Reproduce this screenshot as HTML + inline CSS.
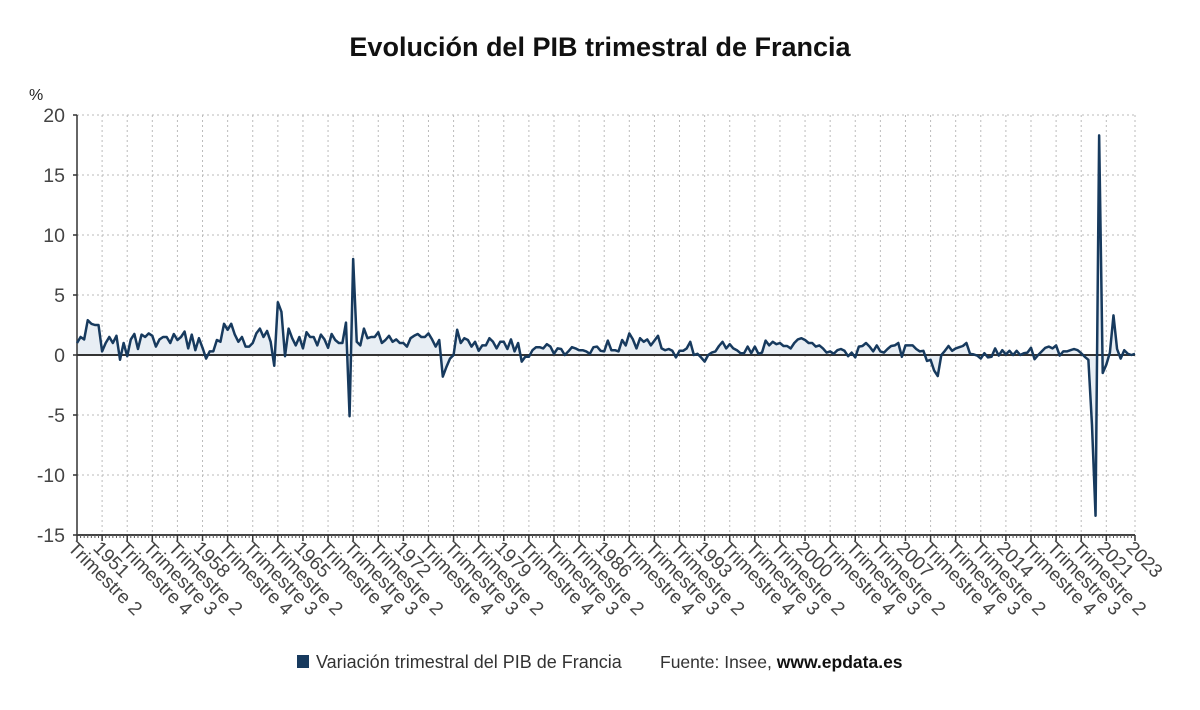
<!DOCTYPE html>
<html><head><meta charset="utf-8">
<style>
html,body{margin:0;padding:0;background:#fff;}
body{width:1200px;height:705px;overflow:hidden;font-family:"Liberation Sans",sans-serif;}
</style></head>
<body>
<svg id="chart" width="1200" height="705" viewBox="0 0 1200 705" xmlns="http://www.w3.org/2000/svg" font-family="Liberation Sans, DejaVu Sans, sans-serif">
<text x="600" y="56" text-anchor="middle" font-size="27" font-weight="bold" fill="#111">Evolución del PIB trimestral de Francia</text>
<text x="29" y="100" font-size="16" fill="#222">%</text>
<g id="grid"></g>
<g id="area"></g>
<g id="axes"></g>
<g id="series"></g>
<g id="labels"></g>
<g>
<rect x="297" y="655" width="12" height="13" fill="#173a5e"/>
<text x="316" y="668" font-size="18" fill="#333">Variación trimestral del PIB de Francia</text>
<text x="660" y="668" font-size="17.5" fill="#333">Fuente: Insee, <tspan font-weight="bold" fill="#111">www.epdata.es</tspan></text>
</g>
</svg>
<script>
const startYear = 1949;
const startQuarter = 2;
const yTicks = [20, 15, 10, 5, 0, -5, -10, -15];
const gdpGrowth = [
1.0,1.5,1.3,2.9,2.6,2.5,2.5,0.3,1.0,1.5,1.0,1.6,-0.4,1.0,-0.1,1.3,1.75,0.5,1.7,1.5,1.8,1.6,0.7,1.3,1.5,1.5,1.0,1.75,1.25,1.5,1.95,0.55,1.7,0.4,1.4,0.6,-0.3,0.3,0.3,1.25,1.1,2.6,2.1,2.6,1.7,1.1,1.5,0.7,
0.7,1.0,1.8,2.2,1.5,2.0,1.1,-0.9,4.4,3.6,-0.1,2.2,1.4,0.8,1.5,0.55,1.9,1.5,1.5,0.8,1.7,1.3,0.6,1.75,1.25,1.0,1.0,2.7,-5.1,8.0,1.1,0.8,2.2,1.4,1.5,1.5,1.9,1.0,1.25,1.6,1.1,1.3,1.0,1.0,0.7,1.4,1.6,1.75,1.5,1.5,
1.8,1.3,0.7,1.25,-1.8,-1.0,-0.3,0,2.1,1.0,1.4,1.25,0.7,1.1,0.35,0.8,0.8,1.4,1.1,0.55,1.1,1.1,0.5,1.3,0.3,1.0,-0.55,-0.15,-0.15,0.4,0.65,0.65,0.55,0.9,0.7,0.1,0.55,0.5,0,0.3,0.65,0.55,0.4,0.4,0.3,0.1,0.65,0.7,0.35,0.3,1.2,0.4,
0.4,0.3,1.25,0.8,1.8,1.3,0.55,1.4,1.1,1.3,0.8,1.2,1.6,0.55,0.4,0.5,0.35,-0.2,0.35,0.35,0.55,1.1,0,0.1,-0.2,-0.55,0,0.2,0.3,0.75,1.1,0.55,0.9,0.55,0.4,0.15,0.15,0.7,0.15,0.7,0.1,0.2,1.2,0.8,1.1,0.9,1.0,0.75,0.75,0.55,1.0,1.3,
1.4,1.25,1.0,1.0,0.7,0.8,0.55,0.2,0.3,0.1,0.4,0.5,0.35,-0.1,0.2,-0.2,0.7,0.75,1.0,0.7,0.3,0.8,0.3,0.2,0.5,0.75,0.8,1.0,-0.15,0.8,0.8,0.8,0.5,0.3,0.35,-0.5,-0.4,-1.3,-1.75,0,0.35,0.75,0.35,0.55,0.65,0.75,1.0,0.1,
0.05,-0.05,-0.3,0.15,-0.2,-0.15,0.55,-0.05,0.4,0.05,0.35,0,0.35,0,0.15,0.2,0.6,-0.35,0,0.3,0.6,0.7,0.55,0.8,-0.05,0.3,0.3,0.4,0.5,0.4,0.15,-0.15,-0.4,
-5.8,-13.4,18.3,-1.5,-0.8,0.2,3.3,0.5,-0.3,0.4,0.1,0.0,0.1
];
const NS = "http://www.w3.org/2000/svg";
const X0 = 77, X1 = 1135, YT = 115, YB = 535, YMAX = 20, YMIN = -15;
const n = gdpGrowth.length;
const xs = i => X0 + (X1 - X0) * i / (n - 1);
const ys = v => YT + (YMAX - v) * (YB - YT) / (YMAX - YMIN);
function mk(tag, parent, attrs) { const e = document.createElementNS(NS, tag); for (const k in attrs) e.setAttribute(k, attrs[k]); parent.appendChild(e); return e; }
const grid = document.getElementById('grid'), axes = document.getElementById('axes'), labels = document.getElementById('labels');
function label(i) {
  const q0 = startQuarter - 1 + i; const y = startYear + Math.floor(q0 / 4); const q = q0 % 4 + 1;
  if (i === 0) return "Trimestre " + q;
  return q === 1 ? String(y) : "Trimestre " + q;
}
const tickIdx = [];
for (let i = 0; i < n - 4; i += 7) tickIdx.push(i);
tickIdx.push(n - 1);
yTicks.forEach(v => {
  const l = mk('line', grid, {x1: X0, x2: X1, y1: ys(v), y2: ys(v), stroke: '#bbb', 'stroke-width': 1, 'stroke-dasharray': '2,3'});
  
  
  const t = mk('text', labels, {x: 65, y: ys(v) + 7, 'text-anchor': 'end', 'font-size': 19.5, fill: '#444'});
  t.textContent = String(v);
  
  
  mk('line', axes, {x1: X0 - 4, x2: X0, y1: ys(v), y2: ys(v), stroke: '#333', 'stroke-width': 1.5});
});
tickIdx.forEach(i => {
  const x = xs(i);
  const l = mk('line', grid, {x1: x, x2: x, y1: YT, y2: YB, stroke: '#bbb', 'stroke-width': 1, 'stroke-dasharray': '2,3'});
  
  
  const t = mk('text', labels, {x: 0, y: 0, 'font-size': 19, fill: '#444', transform: `translate(${x - 10},${YB + 14}) rotate(45)`});
  t.textContent = i === n - 1 ? String(startYear + Math.floor((startQuarter - 1 + i) / 4)) : label(i);
  
  
});
let d = `M${xs(0)},${ys(0)}`;
gdpGrowth.forEach((v, i) => d += ` L${xs(i).toFixed(2)},${ys(v).toFixed(2)}`);
d += ` L${xs(n - 1)},${ys(0)} Z`;
const area = mk('path', document.getElementById('area'), {d: d, fill: '#e8eef4', stroke: 'none'});


const yAx = mk('line', axes, {x1: X0, x2: X0, y1: YT, y2: YB, stroke: '#333', 'stroke-width': 1.5});


const xAx = mk('line', axes, {x1: X0, x2: X1, y1: YB, y2: YB, stroke: '#444', 'stroke-width': 2});


for (let i = 0; i < n; i++) mk('line', axes, {x1: xs(i), x2: xs(i), y1: YB, y2: YB + 3, stroke: '#555', 'stroke-width': 1});
tickIdx.forEach(i => mk('line', axes, {x1: xs(i), x2: xs(i), y1: YB, y2: YB + 6, stroke: '#333', 'stroke-width': 1.5}));
const zero = mk('line', axes, {x1: X0, x2: X1, y1: ys(0), y2: ys(0), stroke: '#333', 'stroke-width': 2});


const pts = gdpGrowth.map((v, i) => `${xs(i).toFixed(2)},${ys(v).toFixed(2)}`).join(' ');
const line = mk('polyline', document.getElementById('series'), {points: pts, fill: 'none', stroke: '#173a5e', 'stroke-width': 2.5, 'stroke-linejoin': 'round'});


</script>
</body></html>
